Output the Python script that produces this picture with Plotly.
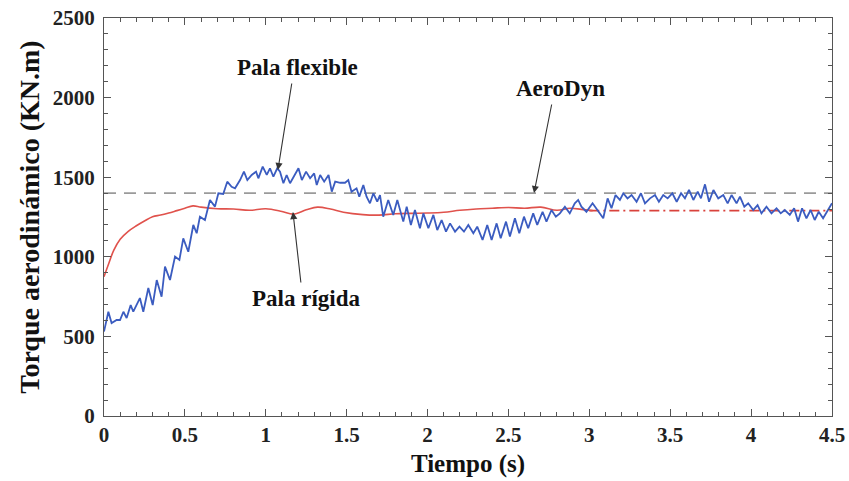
import plotly.graph_objects as go

# Pala flexible (blue)
flex_t = [0.0, 0.027, 0.047, 0.078, 0.099, 0.12, 0.14, 0.165, 0.181, 0.222, 0.243, 0.274, 0.301, 0.326, 0.356,
          0.377, 0.408, 0.439, 0.466, 0.49, 0.521, 0.552, 0.573, 0.593, 0.624, 0.655, 0.686, 0.707, 0.737,
          0.762, 0.789, 0.81, 0.841, 0.865, 0.886, 0.913, 0.94, 0.954, 0.981, 1.006, 1.026, 1.047, 1.071,
          1.088, 1.109, 1.129, 1.15, 1.175, 1.202, 1.223, 1.249, 1.274, 1.299, 1.315, 1.336, 1.361, 1.388,
          1.408, 1.429, 1.46, 1.49, 1.51, 1.53, 1.561, 1.578, 1.603, 1.623, 1.644, 1.665, 1.689, 1.706,
          1.726, 1.757, 1.788, 1.813, 1.85, 1.871, 1.897, 1.922, 1.953, 1.974, 2.005, 2.036, 2.06, 2.087,
          2.114, 2.139, 2.17, 2.197, 2.225, 2.252, 2.283, 2.307, 2.34, 2.369, 2.396, 2.427, 2.452, 2.485,
          2.509, 2.54, 2.567, 2.596, 2.622, 2.653, 2.678, 2.711, 2.735, 2.766, 2.793, 2.818, 2.849, 2.879,
          2.91, 2.931, 2.951, 2.982, 3.02, 3.055, 3.086, 3.113, 3.137, 3.162, 3.189, 3.21, 3.236, 3.261,
          3.292, 3.319, 3.344, 3.375, 3.406, 3.43, 3.457, 3.484, 3.513, 3.54, 3.567, 3.591, 3.616, 3.643,
          3.67, 3.69, 3.715, 3.74, 3.767, 3.797, 3.828, 3.855, 3.879, 3.91, 3.931, 3.958, 3.982, 4.013,
          4.04, 4.064, 4.095, 4.126, 4.157, 4.183, 4.208, 4.239, 4.266, 4.29, 4.315, 4.342, 4.368, 4.393,
          4.418, 4.445, 4.476, 4.5]
flex_v = [530, 655, 584, 603, 603, 655, 615, 697, 655, 741, 655, 804, 697, 854, 749,
          938, 854, 1001, 980, 1116, 1032, 1200, 1148, 1252, 1231, 1357, 1315, 1399, 1395,
          1472, 1440, 1430, 1482, 1535, 1482, 1514, 1535, 1493, 1566, 1514, 1556, 1503, 1556,
          1535, 1462, 1514, 1462, 1503, 1556, 1482, 1535, 1493, 1524, 1451, 1514, 1472, 1514,
          1409, 1472, 1465, 1465, 1482, 1409, 1430, 1378, 1451, 1378, 1336, 1399, 1346, 1388,
          1252, 1357, 1263, 1357, 1221, 1315, 1200, 1294, 1179, 1273, 1179, 1263, 1168, 1231,
          1158, 1210, 1158, 1189, 1158, 1200, 1148, 1189, 1106, 1200, 1106, 1210, 1116, 1221,
          1127, 1242, 1148, 1252, 1179, 1273, 1200, 1283, 1221, 1294, 1252, 1273, 1315, 1273,
          1336, 1357, 1315, 1283, 1336, 1283, 1242, 1367, 1305, 1388, 1357, 1399, 1367, 1388,
          1346, 1399, 1336, 1367, 1388, 1346, 1388, 1367, 1399, 1346, 1399, 1367, 1420, 1357,
          1409, 1367, 1455, 1346, 1420, 1367, 1388, 1336, 1388, 1336, 1378, 1315, 1336, 1294,
          1325, 1273, 1315, 1273, 1305, 1273, 1294, 1263, 1305, 1221, 1305, 1242, 1294, 1231,
          1283, 1242, 1294, 1336]

# Pala rigida (red)
rig_t = [0, 0.03, 0.06, 0.1, 0.15, 0.2, 0.25, 0.3, 0.35, 0.4, 0.45, 0.5, 0.55, 0.6, 0.7, 0.8, 0.9, 1.0,
         1.1, 1.17, 1.25, 1.32, 1.4, 1.48, 1.6, 1.7, 1.8, 1.9, 2.0, 2.1, 2.2, 2.3, 2.4, 2.5, 2.6, 2.7,
         2.8, 2.88, 2.95, 3.02]
rig_v = [875, 960, 1040, 1110, 1160, 1195, 1225, 1252, 1262, 1275, 1290, 1305, 1320, 1312, 1302, 1300,
         1292, 1302, 1285, 1268, 1295, 1312, 1300, 1280, 1265, 1262, 1270, 1273, 1275, 1280, 1292, 1300,
         1305, 1310, 1305, 1312, 1292, 1305, 1298, 1290]

# Rigid steady continuation (dash-dot)
rig_ss_t = [3.0, 4.5]
rig_ss_v = [1290, 1290]

# AeroDyn reference
aero_t = [0, 4.5]
aero_v = [1400, 1400]

FONT = "Liberation Serif"

fig = go.Figure()
fig.add_trace(go.Scatter(x=aero_t, y=aero_v, mode="lines",
                         line=dict(color="#9a9a9a", width=1.6, dash="12px,8px")))
fig.add_trace(go.Scatter(x=rig_ss_t, y=rig_ss_v, mode="lines",
                         line=dict(color="#d9423c", width=1.6, dash="10px,4px,2px,4px")))
fig.add_trace(go.Scatter(x=rig_t, y=rig_v, mode="lines", line_shape="spline",
                         line=dict(color="#e0524c", width=1.6)))
fig.add_trace(go.Scatter(x=flex_t, y=flex_v, mode="lines",
                         line=dict(color="#3b5cc0", width=1.8)))

ann_font = dict(family=FONT, size=23, color="#111", weight="bold")
arrows = [
    (1.075, 1545, 1.162, 2098),
    (2.658, 1400, 2.769, 1966),
    (1.168, 1281, 1.218, 829),
]
for hx, hy, tx, ty in arrows:
    fig.add_annotation(x=hx, y=hy, ax=tx, ay=ty, axref="x", ayref="y", text="",
                       showarrow=True, arrowhead=2, arrowsize=1.3, arrowwidth=1.1,
                       arrowcolor="#333")
labels = [("Pala flexible", 1.193, 2186), ("AeroDyn", 2.824, 2060), ("Pala rígida", 1.248, 741)]
for txt, lx, ly in labels:
    fig.add_annotation(x=lx, y=ly, text=txt, showarrow=False, font=ann_font)

axis_common = dict(showline=True, linecolor="#555", linewidth=1.2, mirror="allticks",
                   ticks="inside", ticklen=7, tickcolor="#555", tickwidth=1.2,
                   showgrid=False, zeroline=False, automargin=False,
                   tickfont=dict(family=FONT, size=21, color="#222", weight="bold"))

fig.update_layout(
    width=849, height=481,
    margin=dict(l=104, r=17, t=18, b=65, autoexpand=False),
    paper_bgcolor="white", plot_bgcolor="white",
    showlegend=False,
    xaxis=dict(range=[0, 4.5], dtick=0.5, tickformat="~g",
               minor=dict(ticks="inside", dtick=0.1, ticklen=4, tickcolor="#555"),
               title=dict(text="Tiempo (s)", font=dict(family=FONT, size=25, color="#111", weight="bold"),
                          standoff=8),
               **axis_common),
    yaxis=dict(range=[0, 2500], dtick=500, ticklabelstandoff=4,
               minor=dict(ticks="inside", dtick=100, ticklen=4, tickcolor="#555"),
               title=dict(text="Torque aerodinámico (KN.m)",
                          font=dict(family=FONT, size=28, color="#111", weight="bold"), standoff=4),
               **axis_common),
)

fig.write_html("out.html")
